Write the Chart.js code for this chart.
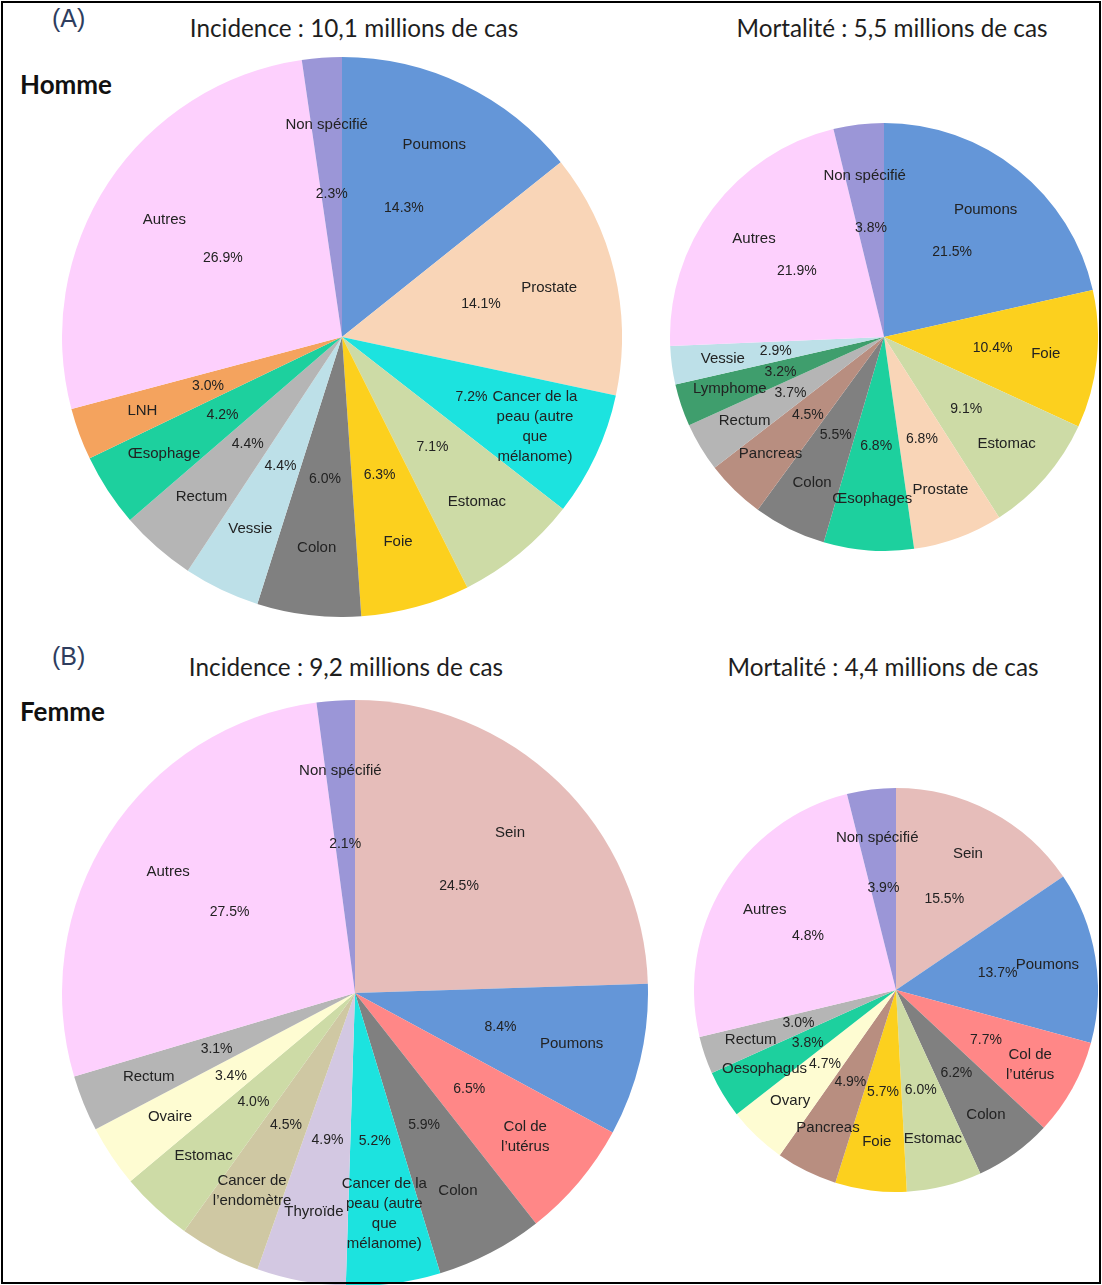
<!DOCTYPE html>
<html><head><meta charset="utf-8">
<script src="https://cdn.jsdelivr.net/npm/chart.js@4/dist/chart.umd.min.js"></script>
<style>
html,body{margin:0;padding:0;background:#fff;}
#frame{position:relative;width:1102px;height:1285px;overflow:hidden;background:#fff;}
#border{position:absolute;left:1px;top:1px;width:1096px;height:1279px;border:2px solid #000;z-index:5;pointer-events:none}
canvas{position:absolute}
.title{position:absolute;font-family:Lato,"Open Sans",sans-serif;font-size:24.3px;color:#1e1e1e;white-space:nowrap;transform:translateX(-50%);line-height:1}
.sex{position:absolute;font-family:Lato,sans-serif;font-weight:bold;font-size:26px;color:#111;line-height:1}
.tag{position:absolute;font-family:"Liberation Sans",Arial,sans-serif;font-size:25px;color:#2e3d5e;line-height:1}
</style></head>
<body>
<div id="frame">
  <div id="border"></div>
  <div class="tag" style="left:52px;top:6px">(A)</div>
  <div class="title" style="left:354px;top:16px">Incidence : 10,1 millions de cas</div>
  <div class="title" style="left:892px;top:16px">Mortalité : 5,5 millions de cas</div>
  <div class="sex" style="left:20px;top:71px">Homme</div>
  <div class="tag" style="left:52px;top:644px">(B)</div>
  <div class="title" style="left:346px;top:655px">Incidence : 9,2 millions de cas</div>
  <div class="title" style="left:883px;top:655px">Mortalité : 4,4 millions de cas</div>
  <div class="sex" style="left:20px;top:698px">Femme</div>
  <canvas id="c1" width="560" height="560" style="left:62px;top:57px"></canvas>
  <canvas id="c2" width="428" height="428" style="left:670px;top:123px"></canvas>
  <canvas id="c3" width="586" height="586" style="left:62px;top:700px"></canvas>
  <canvas id="c4" width="404" height="404" style="left:694px;top:788px"></canvas>
</div>
<script>
// ---- Data (A) Homme - Incidence ----
const hommeIncCategories = ["Poumons","Prostate","Cancer de la\npeau (autre\nque\nmélanome)","Estomac","Foie","Colon","Vessie","Rectum","Œsophage","LNH","Autres","Non spécifié"];
const hommeIncValues = [14.3,14.1,7.2,7.1,6.3,6.0,4.4,4.4,4.2,3.0,26.9,2.3];
const hommeIncPctLabels = ["14.3%","14.1%","7.2%","7.1%","6.3%","6.0%","4.4%","4.4%","4.2%","3.0%","26.9%","2.3%"];

// ---- Data (A) Homme - Mortalité ----
const hommeMortCategories = ["Poumons","Foie","Estomac","Prostate","Œsophages","Colon","Pancreas","Rectum","Lymphome","Vessie","Autres","Non spécifié"];
const hommeMortValues = [21.5,10.4,9.1,6.8,6.8,5.5,4.5,3.7,3.2,2.9,21.9,3.8];
const hommeMortPctLabels = ["21.5%","10.4%","9.1%","6.8%","6.8%","5.5%","4.5%","3.7%","3.2%","2.9%","21.9%","3.8%"];

// ---- Data (B) Femme - Incidence ----
const femmeIncCategories = ["Sein","Poumons","Col de\nl’utérus","Colon","Cancer de la\npeau (autre\nque\nmélanome)","Thyroïde","Cancer de\nl’endomètre","Estomac","Ovaire","Rectum","Autres","Non spécifié"];
const femmeIncValues = [24.5,8.4,6.5,5.9,5.2,4.9,4.5,4.0,3.4,3.1,27.5,2.1];
const femmeIncPctLabels = ["24.5%","8.4%","6.5%","5.9%","5.2%","4.9%","4.5%","4.0%","3.4%","3.1%","27.5%","2.1%"];

// ---- Data (B) Femme - Mortalité ----
const femmeMortCategories = ["Sein","Poumons","Col de\nl’utérus","Colon","Estomac","Foie","Pancreas","Ovary","Oesophagus","Rectum","Autres","Non spécifié"];
const femmeMortValues = [15.5,13.7,7.7,6.2,6.0,5.7,4.9,4.7,3.8,3.0,24.8,3.9];
const femmeMortPctLabels = ["15.5%","13.7%","7.7%","6.2%","6.0%","5.7%","4.9%","4.7%","3.8%","3.0%","4.8%","3.9%"];

// ---- Styles ----
const colorMap = {
  "Poumons":"#6496d8","Prostate":"#f9d5b7","Cancer de la\npeau (autre\nque\nmélanome)":"#1ce3df",
  "Estomac":"#cddba6","Foie":"#fcd01e","Colon":"#808080","Vessie":"#bde0e8","Rectum":"#b5b5b5",
  "Œsophage":"#1dd09e","Œsophages":"#1dd09e","Oesophagus":"#1dd09e","LNH":"#f4a35e","Autres":"#fdd0fd",
  "Non spécifié":"#9b96d7","Lymphome":"#3f9e6d","Pancreas":"#b88e80","Sein":"#e6bdba",
  "Col de\nl’utérus":"#ff8787","Thyroïde":"#d3c8e2","Cancer de\nl’endomètre":"#cfc8a3","Ovaire":"#fefcd2","Ovary":"#fefcd2"
};

const sliceLabels = {
  id:'sliceLabels',
  afterDatasetsDraw(chart, args, opts){
    const ctx = chart.ctx;
    const meta = chart.getDatasetMeta(0);
    const names = chart.data.labels;
    ctx.save();
    ctx.textAlign='center'; ctx.textBaseline='middle';
    ctx.fillStyle='#222';
    meta.data.forEach((arc,i)=>{
      const p = arc.getProps(['x','y','startAngle','endAngle','outerRadius'], true);
      const mid = (p.startAngle+p.endAngle)/2;
      const rn = p.outerRadius*opts.nameR, rp = p.outerRadius*opts.pctR;
      ctx.font = '15px "Liberation Sans", Arial, sans-serif';
      const lines = names[i].split('\n');
      const lh = 20;
      const nx = p.x+Math.cos(mid)*rn, ny = p.y+Math.sin(mid)*rn;
      lines.forEach((l,k)=>ctx.fillText(l, nx, ny+(k-(lines.length-1)/2)*lh));
      ctx.font = '14px "Liberation Sans", Arial, sans-serif';
      ctx.fillText(opts.pcts[i], p.x+Math.cos(mid)*rp, p.y+Math.sin(mid)*rp);
    });
    ctx.restore();
  }
};

function makePie(id, cats, vals, pcts){
  new Chart(document.getElementById(id), {
    type:'pie',
    data:{labels:cats, datasets:[{data:vals, backgroundColor:cats.map(c=>colorMap[c]), borderWidth:0, hoverOffset:0, offset:0}]},
    options:{
      responsive:false, animation:false, events:[],
      layout:{padding:0},
      plugins:{legend:{display:false}, tooltip:{enabled:false}, title:{display:false},
        sliceLabels:{pcts:pcts, nameR:0.76, pctR:0.51}}
    },
    plugins:[sliceLabels]
  });
}
makePie('c1', hommeIncCategories, hommeIncValues, hommeIncPctLabels);
makePie('c2', hommeMortCategories, hommeMortValues, hommeMortPctLabels);
makePie('c3', femmeIncCategories, femmeIncValues, femmeIncPctLabels);
makePie('c4', femmeMortCategories, femmeMortValues, femmeMortPctLabels);
</script>
</body></html>
